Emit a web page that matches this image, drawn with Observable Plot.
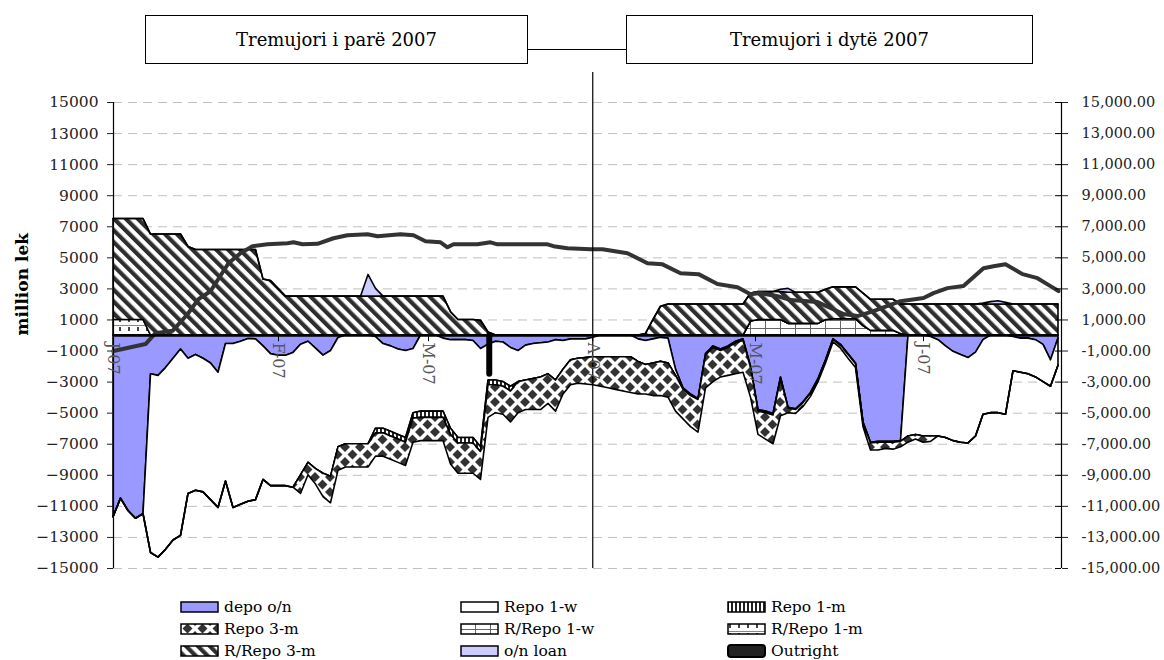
<!DOCTYPE html>
<html>
<head>
<meta charset="utf-8">
<script src="https://cdn.jsdelivr.net/npm/d3@7"></script>
<script src="https://cdn.jsdelivr.net/npm/@observablehq/plot@0.6"></script>
<style>
html,body{margin:0;padding:0;background:#fff;}
body{width:1164px;height:660px;position:relative;overflow:hidden;font-family:"DejaVu Serif",serif;color:#000;}
.qbox{position:absolute;top:15px;height:49px;border:1.5px solid #000;box-sizing:border-box;display:flex;align-items:center;justify-content:center;font-size:18px;background:#fff;}
#conn{position:absolute;left:528px;width:98px;top:49px;border-top:1.5px solid #000;}
#chart{position:absolute;left:0;top:72px;}
.leg{position:absolute;height:20px;display:flex;align-items:center;font-size:15.5px;white-space:nowrap;}
.leg svg{margin-right:4px;display:block;}
</style>
</head>
<body>
<svg width="0" height="0" style="position:absolute">
<defs>
<pattern id="pDiag" patternUnits="userSpaceOnUse" width="8.4" height="8.4" patternTransform="rotate(-45)"><rect width="8.4" height="8.4" fill="#fff"/><rect width="4.2" height="8.4" fill="#2e2e2e"/></pattern>
<pattern id="pDiamond" patternUnits="userSpaceOnUse" width="15" height="15"><rect width="15" height="15" fill="#fff"/><path d="M7.5,2.5L12.5,7.5L7.5,12.5L2.5,7.5Z M0,-5L5,0L0,5L-5,0Z M15,-5L20,0L15,5L10,0Z M0,10L5,15L0,20L-5,15Z M15,10L20,15L15,20L10,15Z" fill="#333"/></pattern>
<pattern id="pVert" patternUnits="userSpaceOnUse" width="4" height="4"><rect width="4" height="4" fill="#fff"/><rect width="2" height="4" fill="#222"/></pattern>
<pattern id="pGrid" patternUnits="userSpaceOnUse" width="15" height="8"><rect width="15" height="8" fill="#fff"/><path d="M0.5,0V8M0,0.5H15" stroke="#666" stroke-width="1"/></pattern>
<pattern id="pBrick" patternUnits="userSpaceOnUse" width="9" height="9"><rect width="9" height="9" fill="#fff"/><rect x="2" y="3" width="2" height="4" fill="#444"/><rect x="0" y="1" width="9" height="1" fill="#888"/></pattern>
</defs>
</svg>
<div id="header"></div>
<div id="chart"></div>
<div id="legend"></div>
<script>
// ---- categories / ticks ----
const days = d3.range(0, 127);              // trading-day index, Jan 2007 .. end of June 2007
const xDomain = [0, 126.4];
const lastDay = 126;
const monthTicks = [0, 22, 42, 63.9, 85.6, 108];
const monthLabels = ["J-07", "F-07", "M-07", "A-07", "M-07", "J-07"];
const dividerDay = 63.9;
const dividerTop = 16930;
const yTicks = [-15000,-13000,-11000,-9000,-7000,-5000,-3000,-1000,1000,3000,5000,7000,9000,11000,13000,15000];
const quarterLabels = ["Tremujori i parë 2007", "Tremujori i dytë 2007"];

// ---- positive series ----
const rrepo1w = [
 0,0,0,0,0,0,0,0,0,0,
 0,0,0,0,0,0,0,0,0,0,
 0,0,0,0,0,0,0,0,0,0,
 0,0,0,0,0,0,0,0,0,0,
 0,0,0,0,0,0,0,0,0,0,
 0,0,0,0,0,0,0,0,0,0,
 0,0,0,0,0,0,0,0,0,0,
 0,0,0,0,0,0,0,0,0,0,
 0,0,0,0,0,900,1000,1000,1000,1000,
 750,750,750,750,750,1000,1050,1050,1050,1050,
 600,300,300,300,300,100,0,0,0,0,
 0,0,0,0,0,0,0,0,0,0,
 0,0,0,0,0,0,0];
const rrepo1m = [
 1000,1000,1000,1000,1000,0,0,0,0,0,
 0,0,0,0,0,0,0,0,0,0,
 0,0,0,0,0,0,0,0,0,0,
 0,0,0,0,0,0,0,0,0,0,
 0,0,0,0,0,0,0,0,0,0,
 0,0,0,0,0,0,0,0,0,0,
 0,0,0,0,0,0,0,0,0,0,
 0,0,0,0,0,0,0,0,0,0,
 0,0,0,0,0,0,0,0,0,0,
 0,0,0,0,0,0,0,0,0,0,
 0,0,0,0,0,0,0,0,0,0,
 0,0,0,0,0,0,0,0,0,0,
 0,0,0,0,0,0,0];
const rrepo3m = [
 6500,6500,6500,6500,6500,6500,6500,6500,6500,6500,
 5700,5500,5500,5500,5500,5500,5500,5500,5500,5500,
 3600,3500,3000,2500,2500,2500,2500,2500,2500,2500,
 2500,2500,2500,2500,2500,2500,2500,2500,2500,2500,
 2500,2500,2500,2500,2500,1500,1000,1000,1000,950,
 200,0,0,0,0,0,0,0,0,0,
 0,0,0,0,0,0,0,0,0,0,
 0,100,1000,1850,2000,2000,2000,2000,2000,2000,
 2000,2000,2000,2000,2000,1800,1800,1800,1800,1800,
 2000,2000,2000,2000,2000,1950,2050,2050,2050,2050,
 2100,2000,2000,2000,2000,1900,2000,2000,2000,2000,
 2000,2000,2000,2000,2000,2000,2000,2000,2000,2000,
 2000,2000,2000,2000,2000,2000,2000];
const onLoan = [
 0,0,0,0,0,0,0,0,0,0,
 0,0,0,0,0,0,0,0,0,0,
 0,0,0,0,0,0,0,0,0,0,
 0,0,0,0,1400,500,0,0,0,0,
 0,0,0,0,0,0,0,0,0,0,
 0,0,0,0,0,0,0,0,0,0,
 0,0,0,0,0,0,0,0,0,0,
 0,0,0,0,0,0,0,0,0,0,
 0,0,0,0,0,0,0,0,0,150,
 250,0,0,0,0,0,0,0,0,0,
 0,0,0,0,0,0,0,0,0,0,
 0,0,0,0,0,0,50,150,200,100,
 0,0,0,0,0,0,0];

// ---- negative series ----
const depo = [
 -11700,-10500,-11300,-11800,-11500,-2500,-2600,-2100,-1500,-900,
 -1500,-1250,-1500,-1800,-2400,-550,-550,-400,-230,-250,
 -700,-1200,-1300,-1300,-1120,-600,-400,-850,-1300,-1000,
 -160,0,0,0,0,-100,-550,-700,-900,-1000,
 -870,0,0,0,-200,-300,-300,-300,-350,-870,
 -600,-400,-450,-800,-1000,-650,-550,-500,-450,-300,
 -350,-250,-250,-250,-150,0,0,0,0,0,
 -250,-350,-250,-150,-200,-2200,-3400,-3800,-4100,-1200,
 -700,-900,-700,-400,-250,-2000,-4800,-4900,-5050,-2700,
 -4650,-4750,-4300,-3700,-2800,-1600,-250,-600,-1200,-1800,
 -5600,-6900,-6850,-6850,-6850,-6800,0,0,0,-100,
 -300,-700,-1050,-1250,-1450,-1100,-300,0,0,0,
 -100,-200,-200,-300,-600,-1600,-200];
const repo1w = [
 0,0,0,0,0,-11500,-11700,-11700,-11700,-12000,
 -8700,-8750,-8600,-8800,-8700,-8850,-10550,-10500,-10470,-10350,
 -8600,-8500,-8400,-8400,-8680,-8400,-7800,-7750,-7600,-8100,
 -7040,-7000,-7000,-7000,-7000,-5900,-5450,-5500,-5500,-5600,
 -4130,-4900,-4900,-4900,-4700,-5700,-6300,-6300,-6250,-6330,
 -2300,-2500,-2550,-2500,-2000,-2250,-2250,-2200,-2050,-2600,
 -1850,-1350,-1250,-1200,-1250,-1400,-1400,-1400,-1400,-1400,
 -1450,-1550,-1550,-1550,-1600,-400,-100,-100,-50,-100,
 -100,-100,-100,-100,-100,-100,-100,-100,-100,-100,
 -50,-50,-50,-50,-50,-50,-50,-50,-50,-50,
 -50,-50,-50,-50,-50,-50,-6500,-6400,-6500,-6400,
 -6200,-5900,-5750,-5650,-5500,-5400,-4800,-5000,-5000,-5100,
 -2200,-2200,-2300,-2400,-2400,-1700,-1750];
const repo1m = [
 0,0,0,0,0,0,0,0,0,0,
 0,0,0,0,0,0,0,0,0,0,
 0,0,0,0,0,0,0,0,0,0,
 0,0,0,0,0,-300,-300,-300,-300,-300,
 -350,-400,-400,-400,-400,-400,-350,-350,-350,-300,
 -300,-300,-300,-300,0,0,0,0,0,0,
 0,0,0,0,0,0,0,0,0,0,
 0,0,0,0,0,0,0,0,0,0,
 0,0,0,0,0,0,0,0,0,0,
 0,0,0,0,0,0,0,0,0,0,
 0,0,0,0,0,0,0,0,0,0,
 0,0,0,0,0,0,0,0,0,0,
 0,0,0,0,0,0,0];
const repo3m = [
 0,0,0,0,0,0,0,0,0,0,
 0,0,0,0,0,0,0,0,0,0,
 0,0,0,0,0,-1200,-800,-1000,-1500,-1700,
 -1500,-1500,-1500,-1500,-1500,-1500,-1500,-1500,-1500,-1500,
 -1550,-1500,-1500,-1500,-1500,-1900,-1950,-1950,-1950,-1800,
 -2100,-1800,-1800,-2000,-2000,-1900,-2000,-2100,-1900,-2000,
 -1600,-1600,-1600,-1700,-1800,-1900,-2000,-2100,-2200,-2300,
 -2100,-1900,-2100,-2200,-2200,-2300,-1900,-2000,-2100,-2100,
 -2200,-1700,-1800,-2000,-2050,-1900,-1500,-1700,-1850,-2400,
 -300,-250,-250,-200,-150,-150,-150,-200,-250,-250,
 -250,-450,-500,-400,-450,-350,-400,-300,-400,-350,
 0,0,0,0,0,0,0,0,0,0,
 0,0,0,0,0,0,0];

// ---- outright ----
const outrightDay = 50.1;
const outrightVal = -2500;

// ---- thick line (right axis) ----
const lineDays = [0,4.27,5.6,7.87,9.87,11.33,12.93,15.33,16.93,18.53,20.53,23.2,24,25.2,27.2,29.33,31.2,33.87,35.2,38.27,40,41.6,43.6,44.53,45.33,48.53,50.27,51.2,57.87,58.67,60.53,63.6,65.2,68.53,71.2,73.2,75.6,78,80.53,83.2,84.93,86.27,88.53,90.27,93.87,95.6,97.33,99.2,101.33,104.93,108,109.33,111.2,113.33,116,117.33,118.93,121.2,123.2,124.93,126];
const lineVals = [-1000,-550,150,300,1370,2340,2850,4650,5300,5750,5870,5940,6000,5870,5900,6260,6450,6520,6390,6520,6450,6070,6000,5680,5870,5870,6000,5870,5870,5750,5620,5550,5550,5300,4650,4580,4010,3950,3310,3110,2660,2730,2530,2280,2150,1770,1380,1250,1570,2210,2410,2730,3050,3180,4330,4460,4590,3950,3690,3180,2860];

// ---- series table (stack order) ----
const seriesNames = ["R/Repo 1-w","R/Repo 1-m","R/Repo 3-m","o/n loan","depo o/n","Repo 1-w","Repo 1-m","Repo 3-m"];
const seriesValues = [rrepo1w, rrepo1m, rrepo3m, onLoan, depo, repo1w, repo1m, repo3m];
const seriesFill = {
  "R/Repo 1-w": "url(#pGrid)", "R/Repo 1-m": "url(#pBrick)", "R/Repo 3-m": "url(#pDiag)",
  "o/n loan": "#CCCCFF", "depo o/n": "#9999FF", "Repo 1-w": "#FFFFFF",
  "Repo 1-m": "url(#pVert)", "Repo 3-m": "url(#pDiamond)", "Outright": "#222222"
};
const negative = new Set(["depo o/n","Repo 1-w","Repo 1-m","Repo 3-m"]);
const rows = seriesNames.flatMap((s, k) => seriesValues[k].map((v, i) => ({
  day: days[i], v: negative.has(s) ? Math.min(v, -1e-6) : v, s, fill: seriesFill[s]
})));
const lineRows = lineDays.map((d, i) => ({day: d, v: lineVals[i]}));

const fmtL = d => (d < 0 ? "\u2212" : "") + Math.abs(d);
const fmtR = d => (d < 0 ? "-" : "") + d3.format(",.2f")(Math.abs(d));

const chart = Plot.plot({
  width: 1164, height: 520,
  marginLeft: 113, marginRight: 103, marginTop: 30, marginBottom: 24,
  x: {domain: xDomain, axis: null},
  y: {domain: [-15000, 15000], label: null},
  style: {fontFamily: '"DejaVu Serif", serif', fontSize: "15.5px", color: "#222", background: "transparent", overflow: "visible"},
  marks: [
    Plot.ruleY(yTicks, {stroke: "#c0c0c0", strokeDasharray: "9,6"}),
    Plot.areaY(rows, Plot.stackY({x: "day", y: "v", z: "s", fill: "fill", stroke: "#000", strokeWidth: 1.6})),
    Plot.ruleX([{day: outrightDay, v: outrightVal}], {x: "day", y1: 0, y2: "v", stroke: "#000", strokeWidth: 6, strokeLinecap: "round"}),
    Plot.line(lineRows, {x: "day", y: "v", stroke: "#333", strokeWidth: 4, strokeLinejoin: "round"}),
    Plot.ruleY([0], {x1: xDomain[0], x2: lastDay, stroke: "#000", strokeWidth: 2.5}),
    Plot.ruleX(monthTicks, {y1: 0, y2: -400, stroke: "#000"}),
    Plot.ruleX([xDomain[0]], {y1: -15000, y2: 15000, stroke: "#000", strokeWidth: 1.2}),
    Plot.ruleX([xDomain[1]], {y1: -15000, y2: 15000, stroke: "#000", strokeWidth: 1.2}),
    Plot.ruleY(yTicks, {x1: xDomain[1] - 0.8, x2: xDomain[1], stroke: "#000"}),
    Plot.ruleX([dividerDay], {y1: -15000, y2: dividerTop, stroke: "#000", strokeWidth: 1.2}),
    Plot.axisY({anchor: "left", ticks: yTicks, tickSize: 6, tickPadding: 9, tickFormat: fmtL, label: null}),
    Plot.axisY({anchor: "right", ticks: yTicks, tickSize: 6, tickPadding: 14, tickFormat: fmtR, label: null, fontSize: 14.5}),
    Plot.text(monthTicks, {x: d => d, y: 0, text: (d, i) => monthLabels[i], rotate: 90, textAnchor: "start", lineAnchor: "middle", dy: 7, fill: "#555", fontSize: 16}),
    Plot.text(["million lek"], {frameAnchor: "left", dx: -91, rotate: -90, fontWeight: "bold", fontSize: 17, fill: "#000"})
  ]
});
document.getElementById("chart").appendChild(chart);

// ---- header boxes ----
const header = document.getElementById("header");
const boxPos = [[145, 383], [626, 407]];
quarterLabels.forEach((t, i) => {
  const b = document.createElement("div");
  b.className = "qbox";
  b.style.left = boxPos[i][0] + "px";
  b.style.width = boxPos[i][1] + "px";
  b.textContent = t;
  header.appendChild(b);
});
const conn = document.createElement("div"); conn.id = "conn"; header.appendChild(conn);

// ---- legend ----
const legendOrder = ["depo o/n","Repo 1-w","Repo 1-m","Repo 3-m","R/Repo 1-w","R/Repo 1-m","R/Repo 3-m","o/n loan","Outright"];
const legCols = [180, 460, 727];
const legRows = [607, 629, 651];
const legend = document.getElementById("legend");
legendOrder.forEach((name, i) => {
  const div = document.createElement("div");
  div.className = "leg";
  div.style.left = legCols[i % 3] + "px";
  div.style.top = (legRows[Math.floor(i / 3)] - 10) + "px";
  const isOut = name === "Outright";
  const sw = d3.create("svg").attr("width", 40).attr("height", 16);
  sw.append("rect").attr("x", 1).attr("y", isOut ? 2 : 3).attr("width", 37).attr("height", isOut ? 12 : 10)
    .attr("rx", isOut ? 3 : 0)
    .attr("fill", seriesFill[name]).attr("stroke", "#000").attr("stroke-width", isOut ? 2 : 1.5);
  div.appendChild(sw.node());
  const sp = document.createElement("span"); sp.textContent = name; div.appendChild(sp);
  legend.appendChild(div);
});
</script>
</body>
</html>
